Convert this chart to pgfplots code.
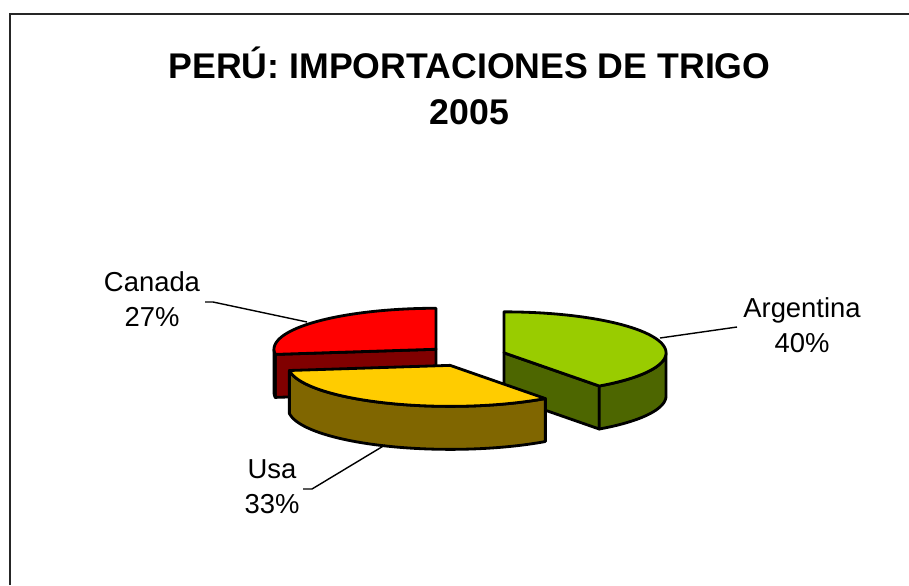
\documentclass[border=0pt]{standalone}
\usepackage{pgfplots}
\pgfplotsset{compat=1.18}
\usepackage{pgfplotstable}
\usepackage{fontspec}
\setmainfont{Liberation Sans}
\definecolor{argtop}{HTML}{99CC00}
\definecolor{argside}{HTML}{4D6600}
\definecolor{usatop}{HTML}{FFCC00}
\definecolor{usaside}{HTML}{806600}
\definecolor{cantop}{HTML}{FF0000}
\definecolor{canside}{HTML}{800000}

\pgfplotstableread{
name value
Argentina 40
Usa 33
Canada 27
}\piedata

\begin{document}
\begin{tikzpicture}
% values
\pgfplotstablegetelem{0}{value}\of\piedata \edef\vA{\pgfplotsretval}
\pgfplotstablegetelem{1}{value}\of\piedata \edef\vU{\pgfplotsretval}
\pgfplotstablegetelem{2}{value}\of\piedata \edef\vC{\pgfplotsretval}
% geometry (pixel units)
\def\cx{466}\def\cy{229}\def\ra{162}\def\rb{41}\def\hh{43}\def\ex{40}\def\ey{10.2}
% angles
\pgfmathsetmacro\aAe{90}
\pgfmathsetmacro\aAs{\aAe-3.6*\vA}
\pgfmathsetmacro\aUe{\aAs}
\pgfmathsetmacro\aUs{\aUe-3.6*\vU}
\pgfmathsetmacro\aCe{\aUs}
\pgfmathsetmacro\aCs{\aCe-3.6*\vC}
% exploded centres
\pgfmathsetmacro\cxA{\cx+\ex*cos((\aAs+\aAe)/2)}
\pgfmathsetmacro\cyA{\cy+\ey*sin((\aAs+\aAe)/2)}
\pgfmathsetmacro\cxU{\cx+\ex*cos((\aUs+\aUe)/2)}
\pgfmathsetmacro\cyU{\cy+\ey*sin((\aUs+\aUe)/2)}
\pgfmathsetmacro\cxC{\cx+\ex*cos((\aCs+\aCe)/2)}
\pgfmathsetmacro\cyC{\cy+\ey*sin((\aCs+\aCe)/2)}
% radial face points
\pgfmathsetmacro\pxA{\cxA+\ra*cos(\aAs)}
\pgfmathsetmacro\pyA{\cyA+\rb*sin(\aAs)}
\pgfmathsetmacro\pyAb{\pyA-\hh}
\pgfmathsetmacro\cyAb{\cyA-\hh}
\pgfmathsetmacro\pxC{\cxC+\ra*cos(\aCe)}
\pgfmathsetmacro\pyC{\cyC+\rb*sin(\aCe)}
\pgfmathsetmacro\pyCb{\pyC-\hh}
\pgfmathsetmacro\cyCb{\cyC-\hh}
% visible outer sides
\pgfmathsetmacro\sA{\aAs}\pgfmathsetmacro\eA{0}
\pgfmathsetmacro\sU{\aUs}\pgfmathsetmacro\eU{\aUe}
\pgfmathsetmacro\sC{-180}\pgfmathsetmacro\eC{\aCe}
\tikzset{pie/.style={draw=black, line width=0.8pt, line join=round}}

\begin{axis}[scale only axis, width=9.09cm, height=5.85cm,
  xmin=0, xmax=909, ymin=0, ymax=585, hide axis, clip=false]

% frame
\draw[line width=0.7pt, black!85] (axis cs:10,0) -- (axis cs:10,571) -- (axis cs:909,571);

% ---- Canada
\addplot[pie, fill=canside] coordinates {(\cxC,\cyC) (\pxC,\pyC) (\pxC,\pyCb) (\cxC,\cyCb)} -- cycle;
\addplot[pie, fill=canside, domain=0:2.0125, samples=162, variable=\t]
  ({\cxC+\ra*cos(\sC+(\eC-\sC)*((\t<=1.005) ? min(\t,1) : min(1,2.0125-\t)))},
   {\cyC+\rb*sin(\sC+(\eC-\sC)*((\t<=1.005) ? min(\t,1) : min(1,2.0125-\t))) - (\t>1.005)*\hh}) -- cycle;
\addplot[pie, fill=cantop, domain=\aCs:\aCe, samples=80, variable=\t]
  ({\cxC+\ra*cos(\t)}, {\cyC+\rb*sin(\t)}) -- (axis cs:\cxC,\cyC) -- cycle;

% ---- Argentina
\addplot[pie, fill=argside] coordinates {(\cxA,\cyA) (\pxA,\pyA) (\pxA,\pyAb) (\cxA,\cyAb)} -- cycle;
\addplot[pie, fill=argside, domain=0:2.0125, samples=162, variable=\t]
  ({\cxA+\ra*cos(\sA+(\eA-\sA)*((\t<=1.005) ? min(\t,1) : min(1,2.0125-\t)))},
   {\cyA+\rb*sin(\sA+(\eA-\sA)*((\t<=1.005) ? min(\t,1) : min(1,2.0125-\t))) - (\t>1.005)*\hh}) -- cycle;
\addplot[pie, fill=argtop, domain=\aAs:\aAe, samples=100, variable=\t]
  ({\cxA+\ra*cos(\t)}, {\cyA+\rb*sin(\t)}) -- (axis cs:\cxA,\cyA) -- cycle;

% ---- Usa
\addplot[pie, fill=usaside, domain=0:2.0125, samples=162, variable=\t]
  ({\cxU+\ra*cos(\sU+(\eU-\sU)*((\t<=1.005) ? min(\t,1) : min(1,2.0125-\t)))},
   {\cyU+\rb*sin(\sU+(\eU-\sU)*((\t<=1.005) ? min(\t,1) : min(1,2.0125-\t))) - (\t>1.005)*\hh}) -- cycle;
\addplot[pie, fill=usatop, domain=\aUs:\aUe, samples=100, variable=\t]
  ({\cxU+\ra*cos(\t)}, {\cyU+\rb*sin(\t)}) -- (axis cs:\cxU,\cyU) -- cycle;

% leader lines
\draw[line width=0.4pt] (axis cs:205,283) -- (axis cs:213,283) -- (axis cs:307,263);
\draw[line width=0.4pt] (axis cs:737,258) -- (axis cs:660,247);
\draw[line width=0.4pt] (axis cs:303,96) -- (axis cs:312,96) -- (axis cs:385,140);

% labels
\node[align=center, font=\fontsize{7.8}{10}\selectfont, inner sep=0pt] at (axis cs:152,285.5) {Canada\\27\%};
\node[align=center, font=\fontsize{7.8}{10}\selectfont, inner sep=0pt] at (axis cs:802,259.5) {Argentina\\40\%};
\node[align=center, font=\fontsize{7.8}{10}\selectfont, inner sep=0pt] at (axis cs:272,98.5) {Usa\\33\%};

% title
\node[align=center, font=\bfseries\fontsize{10.15}{13.1}\selectfont, inner sep=0pt] at (axis cs:469.5,499) {PERÚ: IMPORTACIONES DE TRIGO\\2005};
\end{axis}
\pgfresetboundingbox
\path[use as bounding box] (0,0) rectangle (9.09cm,5.85cm);
\end{tikzpicture}
\end{document}
